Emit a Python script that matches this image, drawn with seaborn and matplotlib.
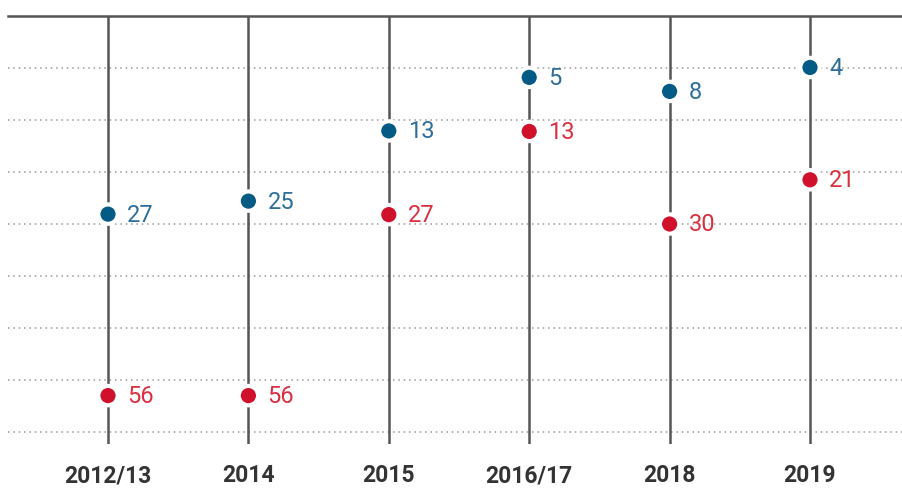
import matplotlib
matplotlib.use("Agg")
import matplotlib.pyplot as plt
import seaborn as sns
import pandas as pd

years = ["2012/13", "2014", "2015", "2016/17", "2018", "2019"]
blue_pos = [38.1, 35.6, 22.1, 11.8, 14.5, 9.9]
blue_rank = [27, 25, 13, 5, 8, 4]
red_pos = [73.0, 73.0, 38.2, 22.2, 40.0, 31.5]
red_rank = [56, 56, 27, 13, 30, 21]

BLUE = "#035a85"
RED = "#d0112b"
BLUE_TXT = "#2f6d9a"
RED_TXT = "#d9303f"

sns.set_style("white")
plt.rcParams["font.family"] = ["Roboto", "DejaVu Sans"]

df = pd.DataFrame({
    "x": list(range(len(years))) * 2,
    "pos": blue_pos + red_pos,
    "rank": blue_rank + red_rank,
    "series": ["blue"] * len(years) + ["red"] * len(years),
})

fig = plt.figure(figsize=(9.03, 4.89), dpi=100)
ax = fig.add_axes([8 / 903, 1 - 445 / 489, 895 / 903, (445 - 17) / 489])

ymax = (445 - 17) / 5.2
ax.set_ylim(ymax, 0)
ax.set_xlim(-100 / 140.4, (903 - 108) / 140.4)

for gy in range(10, 90, 10):
    ax.axhline(gy, color="#9a9a9a", lw=1.1, ls=(0, (1, 2.5)), zorder=1)

for i in range(len(years)):
    ax.axvline(i, color="#555555", lw=1.8, zorder=2)

sns.scatterplot(data=df, x="x", y="pos", hue="series",
                palette={"blue": BLUE, "red": RED}, s=195,
                edgecolor="white", linewidth=3, legend=False, zorder=3, ax=ax)

for _, r in df.iterrows():
    ax.annotate(str(r["rank"]), (r["x"], r["pos"]), xytext=(19, 0),
                textcoords="offset pixels", va="center", ha="left",
                fontsize=17, color=BLUE_TXT if r["series"] == "blue" else RED_TXT,
                zorder=4)

ax.set_xticks(range(len(years)))
ax.set_xticklabels(years, fontsize=16.5, fontweight="bold", color="#333333")
ax.tick_params(axis="x", length=0, pad=14)
ax.set_yticks([])
ax.set_xlabel("")
ax.set_ylabel("")
for s in ["left", "right", "bottom"]:
    ax.spines[s].set_visible(False)
ax.spines["top"].set_color("#555555")
ax.spines["top"].set_linewidth(1.8)

fig.savefig("out.png", dpi=100)
